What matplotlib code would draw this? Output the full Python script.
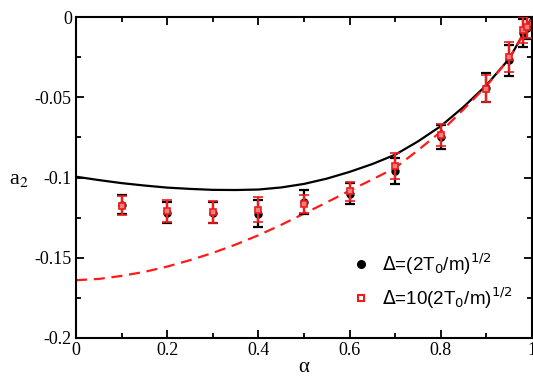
import matplotlib
matplotlib.use("Agg")
import matplotlib.pyplot as plt
from matplotlib.ticker import MultipleLocator
from matplotlib.lines import Line2D

# --- data ---
alpha_pts = [0.1, 0.2, 0.3, 0.4, 0.5, 0.6, 0.7, 0.8, 0.9, 0.95, 0.98, 0.99]
a2_black = [-0.117, -0.122, -0.122, -0.1225, -0.115, -0.110, -0.096, -0.075, -0.044, -0.027, -0.010, -0.007]
err_black = [0.006, 0.0065, 0.0065, 0.0085, 0.0075, 0.0065, 0.008, 0.0075, 0.009, 0.0095, 0.009, 0.007]
a2_red = [-0.1175, -0.121, -0.1215, -0.120, -0.1165, -0.1085, -0.093, -0.0735, -0.0446, -0.025, -0.008, -0.006]
err_red = [0.006, 0.0068, 0.007, 0.008, 0.0055, 0.006, 0.008, 0.0068, 0.0086, 0.0095, 0.008, 0.007]

alpha_th1 = [0.0, 0.05, 0.1, 0.15, 0.2, 0.25, 0.3, 0.35, 0.4, 0.45, 0.5, 0.55, 0.6, 0.65, 0.7, 0.75,
             0.8, 0.85, 0.9, 0.95, 0.98, 1.0]
a2_th1 = [-0.0995, -0.1016, -0.1035, -0.1050, -0.1063, -0.1071, -0.1077, -0.1078, -0.1075, -0.1062,
          -0.1040, -0.1007, -0.0965, -0.0916, -0.0858, -0.0775, -0.0680, -0.0560, -0.0425, -0.0260,
          -0.0110, 0.0]
alpha_th2 = [0.0, 0.05, 0.1, 0.15, 0.2, 0.25, 0.3, 0.35, 0.4, 0.45, 0.5, 0.55, 0.6, 0.65, 0.7, 0.75,
             0.8, 0.85, 0.9, 0.95, 0.98, 1.0]
a2_th2 = [-0.164, -0.1632, -0.1613, -0.1588, -0.1555, -0.1515, -0.1470, -0.1418, -0.1360, -0.1295,
          -0.1225, -0.1155, -0.1082, -0.1012, -0.0940, -0.0830, -0.0715, -0.0575, -0.0430, -0.0260,
          -0.0110, 0.0]

xticks = [0, 0.2, 0.4, 0.6, 0.8, 1.0]
xticklabels = ["0", "0.2", "0.4", "0.6", "0.8", "1"]
yticks = [0, -0.05, -0.1, -0.15, -0.2]
yticklabels = ["0", "-0.05", "-0.1", "-0.15", "-0.2"]
legend_labels = [r"$\Delta$=(2T$_0$/m)$^{1/2}$", r"$\Delta$=10(2T$_0$/m)$^{1/2}$"]

serif = "Liberation Serif"
sans = "Liberation Sans"

fig = plt.figure(figsize=(5.33, 3.78), dpi=100)
ax = fig.add_axes([76 / 533, 1 - 338 / 378, 456 / 533, 321 / 378])

ax.plot(alpha_th1, a2_th1, color="black", lw=1.6, zorder=2)
ax.plot(alpha_th2, a2_th2, color="#ff1a1a", lw=1.6, dashes=(5, 3), zorder=2)

ax.errorbar(alpha_pts, a2_black, yerr=err_black, fmt="o", color="black", ms=5,
            capsize=3.5, elinewidth=1.6, capthick=1.6, zorder=3)
ax.errorbar(alpha_pts, a2_red, yerr=err_red, fmt="s", color="#ee1c1c", mfc="#f08080", mec="#ee1c1c",
            ms=4.5, mew=1.2, capsize=3.5, elinewidth=1.6, capthick=1.6, zorder=4)

ax.set_xlim(0, 1)
ax.set_ylim(-0.2, 0)
ax.set_xticks(xticks)
ax.set_xticklabels(xticklabels, fontfamily=serif, fontsize=13)
ax.set_yticks(yticks)
ax.set_yticklabels(yticklabels, fontfamily=serif, fontsize=13)
ax.xaxis.set_minor_locator(MultipleLocator(0.1))
ax.yaxis.set_minor_locator(MultipleLocator(0.025))
ax.tick_params(which="both", direction="in", top=True, right=True, width=1.3)
ax.tick_params(which="major", length=6, pad=3)
ax.tick_params(which="minor", length=3.5)
for s in ax.spines.values():
    s.set_linewidth(1.5)

ax.set_xlabel("α", fontfamily=serif, fontsize=15, labelpad=-1)
ax.text(-0.125, -0.101, r"a$_2$", fontfamily=serif, fontsize=16, math_fontfamily="stix",
        ha="center", va="center", clip_on=False)

h1 = Line2D([], [], marker="o", ls="none", color="black", ms=5.5)
h2 = Line2D([], [], marker="s", ls="none", mfc="white", mec="#ee1c1c", ms=5, mew=1.5)
leg = ax.legend([h1, h2], legend_labels,
                loc="upper left", bbox_to_anchor=(0.605, 0.27), borderaxespad=0, borderpad=0,
                frameon=False, prop={"family": sans, "size": 13.5}, handlelength=1.0,
                handletextpad=0.6, labelspacing=0.45)

fig.savefig("out.png", dpi=100)
